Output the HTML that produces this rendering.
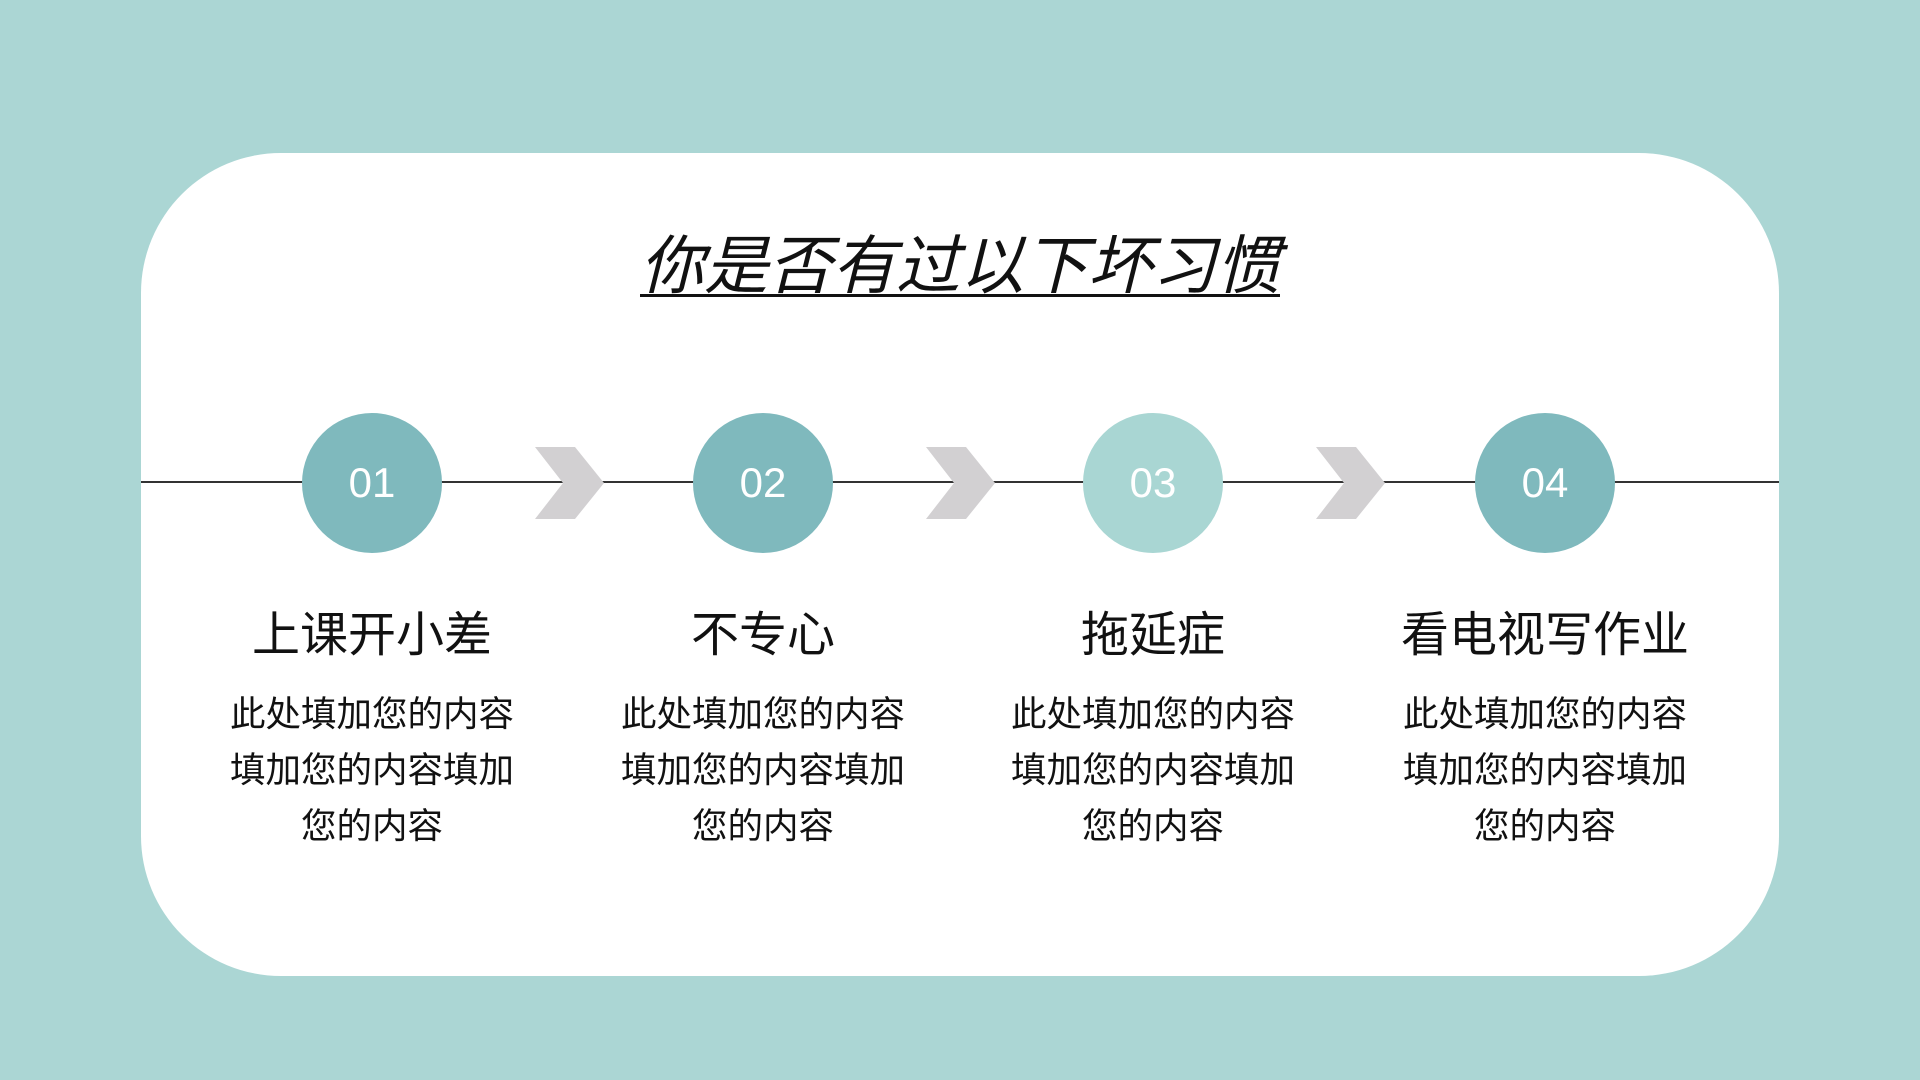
<!DOCTYPE html>
<html><head><meta charset="utf-8"><style>
*{margin:0;padding:0;box-sizing:border-box}
body{width:1920px;height:1080px;background:#abd6d4;position:relative;overflow:hidden;font-family:"Liberation Sans","Noto Sans CJK SC",sans-serif}
.card{position:absolute;left:141px;top:153px;width:1638px;height:823px;background:#fff;border-radius:140px}
.title{position:absolute;left:0;width:1920px;top:228px;text-align:center;font-size:64px;font-style:italic;text-decoration:underline;text-decoration-thickness:3px;text-underline-offset:6px;color:#111;line-height:76px}
.line{position:absolute;left:141px;width:1638px;top:481px;height:1.5px;background:#333}
.c{position:absolute;width:140px;height:140px;border-radius:50%;top:413px;background:#7fb9bd;color:#fff;font-size:42px;text-align:center;line-height:140px}
.h{position:absolute;width:360px;top:604px;text-align:center;font-size:48px;color:#111;line-height:64px}
.b{position:absolute;width:360px;top:686px;text-align:center;font-size:35.5px;color:#111;line-height:56px}
svg{position:absolute;left:0;top:0}
</style></head><body>
<div class="card"></div>
<div class="title">你是否有过以下坏习惯</div>
<div class="line"></div>
<svg width="1920" height="1080">
<g fill="#d2d0d2">
<polygon points="535,447 575,447 604,483 575,519 535,519 563,483"/>
<polygon points="926,447 966,447 995,483 966,519 926,519 954,483"/>
<polygon points="1316,447 1356,447 1385,483 1356,519 1316,519 1344,483"/>
</g></svg>
<div class="c" style="left:302px">01</div>
<div class="c" style="left:693px">02</div>
<div class="c" style="left:1083px;background:#a9d6d3">03</div>
<div class="c" style="left:1475px">04</div>
<div class="h" style="left:192px">上课开小差</div>
<div class="h" style="left:583px">不专心</div>
<div class="h" style="left:973px">拖延症</div>
<div class="h" style="left:1365px">看电视写作业</div>
<div class="b" style="left:192px">此处填加您的内容<br>填加您的内容填加<br>您的内容</div>
<div class="b" style="left:583px">此处填加您的内容<br>填加您的内容填加<br>您的内容</div>
<div class="b" style="left:973px">此处填加您的内容<br>填加您的内容填加<br>您的内容</div>
<div class="b" style="left:1365px">此处填加您的内容<br>填加您的内容填加<br>您的内容</div>
</body></html>
